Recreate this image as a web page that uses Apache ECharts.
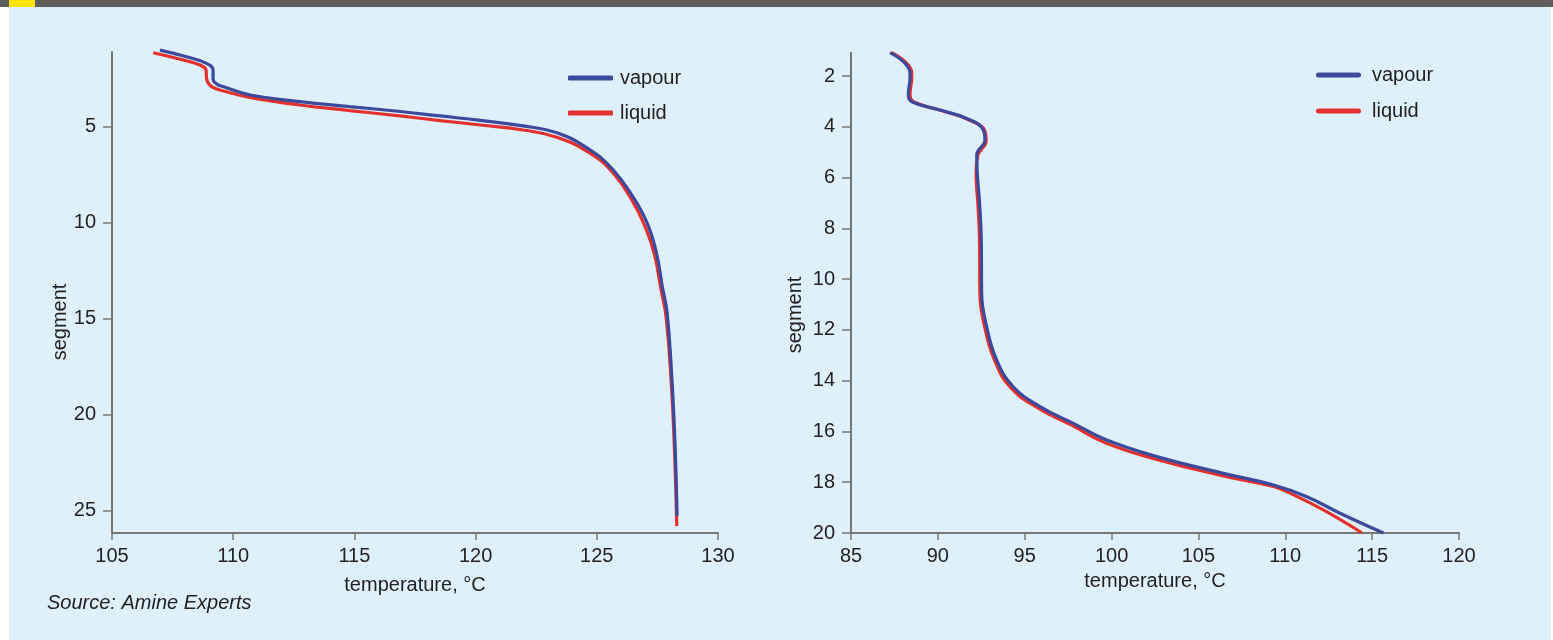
<!DOCTYPE html>
<html>
<head>
<meta charset="utf-8">
<script src="https://cdn.jsdelivr.net/npm/echarts@6/dist/echarts.min.js"></script>
<style>
  html, body { margin: 0; padding: 0; background: #dff0fd; }
  #chart { width: 1553px; height: 640px; }
</style>
</head>
<body>
<div id="chart"></div>
<script>
// ---- data: [temperature °C, segment] ----
const seriesNames = ['vapour', 'liquid'];

const leftVapour = [[106.98,1.0],[108.08,1.35],[108.9,1.69],[109.17,2.04],[109.17,2.5],[109.3,2.75],[109.58,2.9],[110.7,3.34],[112.76,3.68],[114.8,3.94],[116.9,4.2],[118.53,4.43],[120.2,4.66],[121.96,4.95],[123.36,5.31],[124.72,6.2],[125.67,7.23],[126.49,8.64],[127.07,9.99],[127.45,11.5],[127.7,13.3],[127.9,14.67],[128.1,18.15],[128.23,21.63],[128.31,25.27]];
const leftLiquid = [[106.7,1.14],[107.94,1.52],[108.63,1.78],[108.88,2.04],[108.9,2.47],[109.11,2.9],[109.73,3.17],[110.69,3.46],[112.76,3.86],[114.82,4.15],[116.88,4.43],[118.53,4.67],[120.2,4.9],[121.96,5.16],[123.35,5.54],[124.72,6.37],[125.68,7.41],[126.44,8.79],[126.99,10.18],[127.38,11.65],[127.66,13.55],[127.86,14.9],[128.07,18.3],[128.2,21.7],[128.3,25.79]];

const rightVapour = [[87.25,1.08],[88.2,1.57],[88.4,2.03],[88.3,2.75],[88.5,3.01],[90.12,3.34],[91.66,3.67],[92.62,4.13],[92.71,4.52],[92.24,5.11],[92.27,5.83],[92.4,7.0],[92.5,8.5],[92.52,10.56],[92.81,11.87],[93.39,13.19],[94.34,14.24],[95.88,15.02],[97.8,15.68],[99.72,16.34],[102.6,16.99],[106.43,17.65],[109.32,18.11],[111.24,18.57],[113.15,19.22],[115.65,20.0]];
const rightLiquid = [[87.35,1.08],[88.3,1.57],[88.5,2.03],[88.4,2.75],[88.6,3.01],[90.2,3.36],[91.7,3.7],[92.7,4.15],[92.78,4.55],[92.3,5.13],[92.2,5.85],[92.3,7.0],[92.4,8.5],[92.42,10.56],[92.7,11.9],[93.28,13.22],[94.2,14.28],[95.75,15.07],[97.7,15.75],[99.72,16.47],[102.6,17.1],[106.43,17.75],[109.32,18.17],[110.27,18.43],[112.19,19.09],[114.4,19.99]];

const leftSegTicks = [5, 10, 15, 20, 25];
const rightSegTicks = [2, 4, 6, 8, 10, 12, 14, 16, 18, 20];
const xAxisTitle = 'temperature, °C';
const yAxisTitle = 'segment';
const sourceText = 'Source: Amine Experts';

// ---- styling ----
const FONT = "'Liberation Sans', Arial, sans-serif";
const TEXT = '#222222';
const AXIS = '#777777';
const BLUE = '#3c4a9c';
const RED = '#e5312d';

const chart = echarts.init(document.getElementById('chart'), null, { renderer: 'canvas' });

function xAx(gridIndex, min, max, nameGap) {
  return {
    type: 'value', gridIndex, min, max, interval: 5,
    name: xAxisTitle, nameLocation: 'middle', nameGap,
    nameTextStyle: { color: TEXT, fontSize: 20, fontFamily: FONT },
    axisLine: { show: true, lineStyle: { color: AXIS, width: 2 } },
    axisTick: { show: true, length: 7, lineStyle: { color: AXIS, width: 1.5 } },
    axisLabel: { color: TEXT, fontSize: 20, fontFamily: FONT, margin: 13 },
    splitLine: { show: false }
  };
}
function yAx(gridIndex, min, max, ticks) {
  return {
    type: 'value', gridIndex, min, max, inverse: true,
    axisLine: { show: true, onZero: false, lineStyle: { color: AXIS, width: 2 } },
    axisTick: { show: true, length: 9, customValues: ticks, lineStyle: { color: AXIS, width: 1.5 } },
    axisLabel: { color: TEXT, fontSize: 20, fontFamily: FONT, margin: 16, customValues: ticks },
    splitLine: { show: false }
  };
}
function line(name, data, color, xi, yi, z) {
  return {
    name, type: 'line', data, xAxisIndex: xi, yAxisIndex: yi,
    smooth: 0.45, showSymbol: false, symbol: 'none', clip: false, z,
    lineStyle: { color, width: 3.2 }, itemStyle: { color }
  };
}

chart.setOption({
  backgroundColor: '#dff0fd',
  animation: false,
  textStyle: { fontFamily: FONT },
  grid: [
    { left: 112, right: 835, top: 52, bottom: 107 },
    { left: 851, right: 94, top: 52.7, bottom: 107 }
  ],
  xAxis: [xAx(0, 105, 130, 42), xAx(1, 85, 120, 38)],
  yAxis: [yAx(0, 1.1, 26.15, leftSegTicks), yAx(1, 1.08, 20, rightSegTicks)],
  legend: {
    left: 563, top: 63, orient: 'vertical', data: seriesNames,
    icon: 'roundRect', itemWidth: 45, itemHeight: 5, itemGap: 15,
    textStyle: { color: TEXT, fontSize: 20, fontFamily: FONT, lineHeight: 20, padding: [0, 0, 0, 2] }
  },
  series: [
    line('liquid', leftLiquid, RED, 0, 0, 2),
    line('vapour', leftVapour, BLUE, 0, 0, 3),
    line('liquid', rightLiquid, RED, 1, 1, 2),
    line('vapour', rightVapour, BLUE, 1, 1, 3)
  ],
  graphic: [
    { type: 'rect', left: 0, top: 0, shape: { width: 1553, height: 7 }, style: { fill: '#5e5e5e' }, silent: true },
    { type: 'rect', left: 9, top: 0, shape: { width: 26, height: 7 }, style: { fill: '#ffe600' }, silent: true },
    { type: 'rect', left: 0, top: 7, shape: { width: 9, height: 633 }, style: { fill: '#ffffff' }, silent: true },
    { type: 'rect', left: 1551, top: 7, shape: { width: 2, height: 633 }, style: { fill: '#ffffff' }, silent: true },
    { type: 'text', x: 60, y: 322, rotation: Math.PI / 2,
      style: { text: yAxisTitle, fill: TEXT, font: "20px 'Liberation Sans', Arial, sans-serif", align: 'center', verticalAlign: 'middle' } },
    { type: 'text', x: 795, y: 315, rotation: Math.PI / 2,
      style: { text: yAxisTitle, fill: TEXT, font: "20px 'Liberation Sans', Arial, sans-serif", align: 'center', verticalAlign: 'middle' } },
    { type: 'text', x: 47, y: 603,
      style: { text: sourceText, fill: TEXT, font: "italic 20px 'Liberation Sans', Arial, sans-serif", align: 'left', verticalAlign: 'middle' } },
    // right-hand legend (same two series names), drawn as legend-like marks
    { type: 'rect', left: 1316, top: 72.5, shape: { x: 0, y: 0, width: 45, height: 5, r: 2.5 }, style: { fill: BLUE } },
    { type: 'text', x: 1372, y: 75, style: { text: seriesNames[0], fill: TEXT, font: "20px 'Liberation Sans', Arial, sans-serif", verticalAlign: 'middle' } },
    { type: 'rect', left: 1316, top: 108.5, shape: { x: 0, y: 0, width: 45, height: 5, r: 2.5 }, style: { fill: RED } },
    { type: 'text', x: 1372, y: 111, style: { text: seriesNames[1], fill: TEXT, font: "20px 'Liberation Sans', Arial, sans-serif", verticalAlign: 'middle' } }
  ]
});
</script>
</body>
</html>
